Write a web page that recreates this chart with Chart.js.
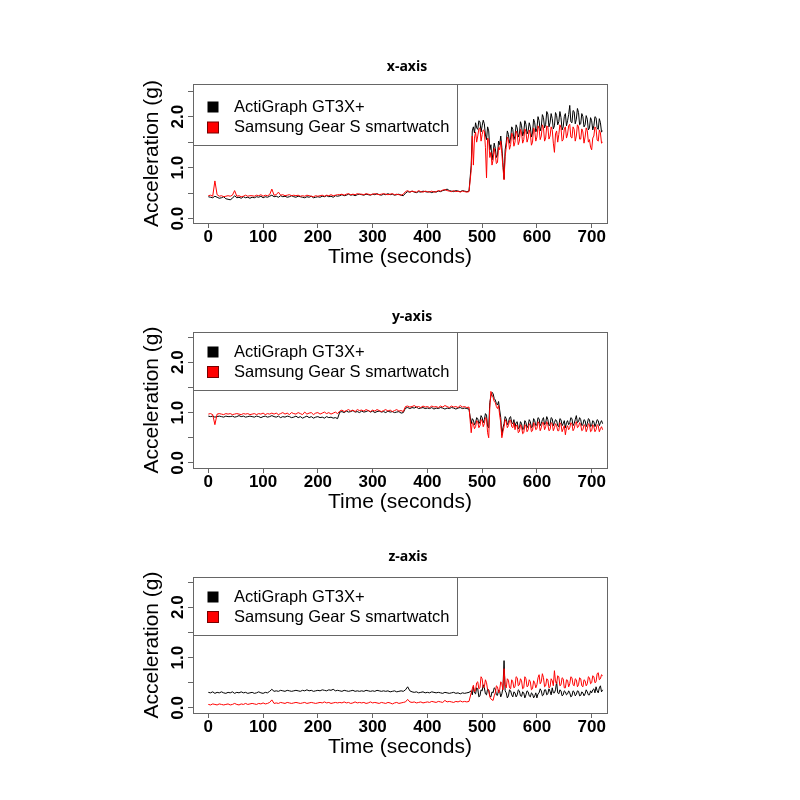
<!DOCTYPE html>
<html>
<head>
<meta charset="utf-8">
<script src="https://cdn.jsdelivr.net/npm/chart.js@4.4.1/dist/chart.umd.min.js"></script>
<style>
html, body { margin: 0; padding: 0; background: #fff; }
#wrap { position: relative; width: 800px; height: 800px; }
canvas { position: absolute; left: 0; }
</style>
</head>
<body>
<div id="wrap">
  <canvas id="panelX" width="800" height="240" style="top:40px"></canvas>
  <canvas id="panelY" width="800" height="240" style="top:290px"></canvas>
  <canvas id="panelZ" width="800" height="240" style="top:535px"></canvas>
</div>
<script>
// sampling: every 4 s while sitting (0..476 s), every 2 s while active (480..720 s)
const REST_STEP = 4, REST_COUNT = 120;
const ACTIVE_START = 480, ACTIVE_STEP = 2;
const seriesNames = ['ActiGraph GT3X+', 'Samsung Gear S smartwatch'];
const seriesColors = ['#000000', '#ff0000'];
const panelTitles = ['x-axis', 'y-axis', 'z-axis'];
const timeTicks = [0, 100, 200, 300, 400, 500, 600, 700];
const accelTicks = [0, 0.5, 1, 1.5, 2, 2.5];
const accelLabelled = [0, 1, 2];

// x-axis acceleration (g)
const xActi = [
  0.43,0.42,0.41,0.44,0.42,0.40,0.41,0.43,0.39,0.38, 0.37,0.40,0.45,0.41,0.42,0.40,0.43,0.41,0.42,0.40,
  0.42,0.41,0.43,0.42,0.44,0.41,0.43,0.42,0.44,0.46, 0.43,0.44,0.42,0.45,0.43,0.44,0.42,0.43,0.45,0.43,
  0.42,0.44,0.43,0.42,0.41,0.43,0.42,0.44,0.41,0.42, 0.43,0.42,0.44,0.43,0.45,0.43,0.44,0.42,0.45,0.44,
  0.45,0.47,0.45,0.46,0.48,0.46,0.47,0.45,0.47,0.48, 0.47,0.46,0.48,0.47,0.46,0.48,0.47,0.49,0.47,0.46,
  0.48,0.47,0.49,0.47,0.48,0.46,0.47,0.48,0.46,0.45, 0.50,0.53,0.52,0.54,0.52,0.51,0.53,0.52,0.54,0.53,
  0.52,0.53,0.51,0.53,0.52,0.54,0.53,0.55,0.56,0.58, 0.55,0.54,0.53,0.55,0.54,0.53,0.55,0.54,0.53,0.54,
  // active
  1.05,1.72,1.80,1.68,1.88,1.78,1.75,1.92,1.90,1.70, 1.82,1.93,1.86,1.64,1.55,1.80,1.72,1.35,1.45,1.15,
  1.30,1.48,1.38,1.20,1.25,1.52,1.45,1.62,1.40,1.10, 0.78,1.35,1.50,1.72,1.65,1.48,1.58,1.80,1.75,1.55,
  1.62,1.84,1.78,1.60,1.66,1.90,1.82,1.62,1.70,1.92, 1.85,1.66,1.72,1.88,1.80,1.60,1.68,1.95,1.88,1.70,
  1.76,2.00,1.92,1.72,1.80,2.04,1.98,1.78,1.85,2.10, 2.05,1.80,1.88,2.06,1.96,1.76,1.82,2.08,2.02,1.84,
  1.90,2.10,1.98,1.74,1.80,2.00,2.06,1.82,1.92,2.04, 2.22,1.90,1.88,2.12,2.10,1.86,1.95,2.16,2.08,1.84,
  1.86,2.06,2.00,1.80,1.84,2.02,1.95,1.74,1.78,1.98, 1.92,1.74,1.82,2.00,1.98,1.78,1.75,1.96,1.88,1.70,
  1.72
];
const xGear = [
  0.45,0.46,0.44,0.74,0.47,0.44,0.45,0.43,0.44,0.45, 0.44,0.46,0.55,0.44,0.45,0.43,0.44,0.46,0.44,0.45,
  0.45,0.44,0.46,0.45,0.47,0.44,0.46,0.45,0.47,0.58, 0.46,0.47,0.52,0.46,0.47,0.45,0.46,0.47,0.45,0.46,
  0.45,0.46,0.44,0.45,0.44,0.46,0.45,0.44,0.43,0.45, 0.44,0.45,0.46,0.44,0.46,0.45,0.47,0.45,0.46,0.47,
  0.47,0.48,0.46,0.48,0.49,0.47,0.48,0.47,0.49,0.48, 0.48,0.47,0.49,0.48,0.47,0.48,0.49,0.48,0.47,0.48,
  0.49,0.48,0.47,0.48,0.49,0.47,0.48,0.47,0.46,0.48, 0.53,0.55,0.52,0.54,0.53,0.52,0.55,0.53,0.52,0.54,
  0.53,0.52,0.54,0.52,0.53,0.55,0.54,0.56,0.57,0.55, 0.54,0.53,0.55,0.53,0.54,0.52,0.54,0.53,0.52,0.53,
  // active
  0.95,1.62,1.05,1.58,1.70,1.50,1.62,1.76,1.78,1.52, 1.65,1.74,1.72,1.40,0.80,1.58,1.55,1.20,1.30,1.05,
  1.15,1.38,1.25,1.08,1.10,1.40,1.35,1.52,1.28,1.00, 0.76,1.22,1.40,1.60,1.55,1.36,1.45,1.68,1.62,1.42,
  1.50,1.72,1.66,1.45,1.52,1.75,1.68,1.48,1.55,1.76, 1.70,1.50,1.58,1.74,1.66,1.44,1.50,1.78,1.72,1.52,
  1.60,1.82,1.76,1.55,1.62,1.84,1.78,1.52,1.58,1.82, 1.80,1.56,1.62,1.80,1.74,1.48,1.30,1.66,1.72,1.50,
  1.65,1.84,1.78,1.52,1.55,1.76,1.80,1.58,1.66,1.82, 1.85,1.60,1.58,1.80,1.75,1.52,1.62,1.84,1.80,1.56,
  1.56,1.76,1.70,1.48,1.60,1.78,1.72,1.50,1.55,1.40, 1.35,1.58,1.62,1.80,1.76,1.54,1.52,1.74,1.68,1.48,
  1.50
];

// y-axis acceleration (g)
const yActi = [
  0.93,0.92,0.93,0.91,0.92,0.93,0.92,0.91,0.93,0.92, 0.92,0.93,0.91,0.92,0.94,0.92,0.93,0.91,0.92,0.93,
  0.92,0.91,0.93,0.92,0.90,0.92,0.93,0.91,0.92,0.94, 0.92,0.91,0.93,0.90,0.92,0.91,0.93,0.92,0.90,0.91,
  0.93,0.90,0.92,0.89,0.91,0.93,0.90,0.92,0.89,0.91, 0.92,0.90,0.91,0.89,0.92,0.90,0.91,0.89,0.90,0.88,
  1.01,1.02,1.00,1.03,1.01,1.02,1.04,1.01,1.02,1.00, 1.03,1.01,1.02,1.04,1.01,1.03,1.00,1.02,1.03,1.01,
  1.02,1.00,1.03,1.01,1.02,1.00,1.01,1.02,0.99,1.00, 1.09,1.10,1.08,1.10,1.09,1.11,1.08,1.09,1.10,1.08,
  1.09,1.08,1.10,1.07,1.09,1.08,1.10,1.09,1.07,1.09, 1.08,1.10,1.09,1.07,1.09,1.10,1.08,1.09,1.08,1.07,
  // active
  0.78,0.88,0.85,0.76,0.80,0.90,0.88,0.78,0.82,0.94, 0.90,0.80,0.86,0.98,0.95,0.72,0.70,1.20,1.32,1.40,
  1.38,1.28,1.25,1.18,1.15,1.22,1.05,0.90,0.55,0.70, 0.78,0.92,0.88,0.76,0.80,0.90,0.92,0.80,0.78,0.86,
  0.72,0.80,0.82,0.68,0.70,0.82,0.78,0.66,0.68,0.84, 0.80,0.70,0.74,0.86,0.82,0.70,0.72,0.88,0.84,0.74,
  0.76,0.90,0.88,0.74,0.78,0.86,0.90,0.76,0.80,0.92, 0.86,0.74,0.76,0.90,0.88,0.74,0.80,0.86,0.84,0.74,
  0.72,0.88,0.86,0.74,0.78,0.84,0.70,0.80,0.84,0.76, 0.80,0.90,0.88,0.74,0.78,0.86,0.94,0.80,0.82,0.90,
  0.86,0.74,0.76,0.86,0.84,0.72,0.78,0.88,0.86,0.72, 0.74,0.84,0.82,0.72,0.78,0.86,0.84,0.74,0.80,0.84,
  0.78
];
const yGear = [
  0.97,0.98,0.96,0.76,0.97,0.98,0.97,0.96,0.98,0.97, 0.98,0.96,0.97,0.98,0.97,0.96,0.98,0.97,0.98,0.96,
  0.97,0.98,0.96,0.98,0.97,0.99,0.96,0.98,0.97,0.99, 0.97,0.99,0.96,0.98,1.00,0.97,0.99,0.96,1.00,0.98,
  0.97,1.00,0.98,0.96,1.01,0.97,0.99,1.00,0.96,0.99, 1.00,0.97,0.99,1.01,0.98,1.00,0.97,0.99,1.01,0.98,
  1.03,1.05,1.02,1.04,1.06,1.03,1.05,1.02,1.06,1.04, 1.05,1.03,1.06,1.04,1.02,1.05,1.03,1.06,1.04,1.02,
  1.04,1.06,1.03,1.05,1.02,1.04,1.06,1.03,1.04,1.02, 1.12,1.13,1.11,1.12,1.14,1.11,1.12,1.10,1.13,1.11,
  1.12,1.10,1.13,1.11,1.12,1.10,1.13,1.11,1.14,1.12, 1.10,1.13,1.11,1.12,1.10,1.14,1.11,1.12,1.10,1.11,
  // active
  0.60,0.80,0.78,0.68,0.72,0.84,0.82,0.70,0.74,0.86, 0.84,0.72,0.78,0.90,0.88,0.60,0.50,1.10,1.42,1.35,
  1.30,1.22,1.20,1.12,1.08,1.14,0.95,0.80,0.50,0.62, 0.72,0.86,0.82,0.70,0.74,0.84,0.85,0.72,0.70,0.80,
  0.66,0.74,0.75,0.60,0.62,0.76,0.72,0.58,0.60,0.76, 0.74,0.62,0.66,0.78,0.75,0.62,0.64,0.80,0.76,0.66,
  0.68,0.82,0.78,0.64,0.70,0.80,0.80,0.66,0.72,0.82, 0.76,0.64,0.66,0.80,0.78,0.64,0.70,0.78,0.74,0.64,
  0.64,0.80,0.76,0.62,0.68,0.74,0.56,0.70,0.74,0.66, 0.70,0.80,0.78,0.64,0.68,0.78,0.82,0.70,0.72,0.80,
  0.76,0.64,0.66,0.76,0.74,0.62,0.68,0.78,0.76,0.62, 0.64,0.76,0.72,0.62,0.66,0.76,0.74,0.62,0.68,0.72,
  0.66
];

// z-axis acceleration (g)
const zActi = [
  0.31,0.30,0.32,0.29,0.31,0.30,0.32,0.30,0.29,0.31, 0.30,0.32,0.29,0.31,0.30,0.32,0.30,0.31,0.29,0.30,
  0.31,0.29,0.30,0.32,0.30,0.29,0.31,0.30,0.33,0.37, 0.33,0.34,0.33,0.35,0.34,0.33,0.35,0.34,0.33,0.34,
  0.35,0.34,0.33,0.35,0.34,0.36,0.34,0.35,0.33,0.34, 0.35,0.34,0.36,0.35,0.34,0.36,0.35,0.37,0.34,0.35,
  0.34,0.33,0.35,0.34,0.33,0.34,0.35,0.33,0.34,0.33, 0.34,0.33,0.35,0.34,0.33,0.34,0.33,0.35,0.34,0.33,
  0.34,0.33,0.34,0.32,0.33,0.34,0.32,0.33,0.34,0.33, 0.36,0.42,0.34,0.32,0.31,0.32,0.30,0.31,0.32,0.30,
  0.31,0.30,0.32,0.31,0.30,0.31,0.30,0.29,0.31,0.30, 0.29,0.30,0.31,0.29,0.30,0.28,0.30,0.29,0.30,0.31,
  // active
  0.34,0.26,0.42,0.30,0.28,0.40,0.38,0.22,0.24,0.36, 0.34,0.46,0.40,0.28,0.26,0.38,0.36,0.24,0.22,0.32,
  0.30,0.40,0.38,0.26,0.25,0.36,0.33,0.22,0.28,0.40, 0.94,0.34,0.30,0.20,0.24,0.36,0.34,0.26,0.22,0.32,
  0.30,0.22,0.26,0.36,0.34,0.24,0.23,0.32,0.30,0.20, 0.26,0.34,0.32,0.24,0.22,0.30,0.28,0.20,0.24,0.30,
  0.20,0.28,0.30,0.38,0.34,0.24,0.26,0.36,0.36,0.26, 0.28,0.38,0.33,0.26,0.40,0.30,0.30,0.36,0.52,0.30,
  0.28,0.36,0.34,0.24,0.26,0.34,0.32,0.26,0.28,0.34, 0.30,0.22,0.24,0.34,0.32,0.24,0.27,0.34,0.33,0.24,
  0.25,0.32,0.30,0.24,0.28,0.36,0.32,0.26,0.26,0.34, 0.30,0.36,0.38,0.30,0.42,0.34,0.30,0.40,0.44,0.32,
  0.36
];
const zGear = [
  0.07,0.06,0.08,0.07,0.06,0.08,0.07,0.06,0.07,0.08, 0.06,0.07,0.09,0.07,0.06,0.08,0.07,0.09,0.07,0.08,
  0.09,0.08,0.07,0.09,0.08,0.10,0.08,0.09,0.11,0.16, 0.09,0.10,0.09,0.11,0.10,0.09,0.11,0.10,0.09,0.10,
  0.11,0.10,0.09,0.10,0.11,0.09,0.10,0.11,0.10,0.09, 0.10,0.11,0.10,0.12,0.10,0.11,0.09,0.10,0.11,0.10,
  0.11,0.10,0.12,0.10,0.11,0.09,0.10,0.12,0.10,0.11, 0.10,0.11,0.09,0.10,0.12,0.10,0.11,0.10,0.09,0.11,
  0.10,0.09,0.11,0.10,0.08,0.10,0.11,0.09,0.10,0.11, 0.12,0.17,0.12,0.11,0.12,0.10,0.11,0.12,0.10,0.11,
  0.12,0.11,0.13,0.12,0.11,0.13,0.12,0.11,0.15,0.12, 0.13,0.12,0.11,0.13,0.12,0.14,0.12,0.13,0.12,0.13,
  // active
  0.30,0.38,0.45,0.32,0.36,0.50,0.52,0.38,0.40,0.62, 0.58,0.40,0.42,0.56,0.50,0.36,0.35,0.22,0.18,0.16,
  0.15,0.24,0.30,0.44,0.42,0.30,0.36,0.52,0.48,0.36, 0.78,0.46,0.40,0.58,0.55,0.40,0.38,0.56,0.52,0.40,
  0.42,0.62,0.60,0.44,0.46,0.58,0.54,0.38,0.40,0.62, 0.58,0.42,0.44,0.56,0.52,0.36,0.38,0.54,0.50,0.40,
  0.46,0.60,0.66,0.48,0.52,0.68,0.60,0.42,0.44,0.58, 0.56,0.40,0.42,0.58,0.54,0.44,0.74,0.52,0.48,0.64,
  0.62,0.44,0.46,0.60,0.58,0.40,0.40,0.56,0.55,0.42, 0.48,0.62,0.60,0.46,0.44,0.58,0.56,0.42,0.46,0.60,
  0.58,0.44,0.42,0.56,0.54,0.44,0.48,0.62,0.60,0.48, 0.50,0.64,0.62,0.50,0.52,0.68,0.70,0.56,0.58,0.66,
  0.64
];

const FONT = '"Liberation Sans", Arial, sans-serif';
const AXIS_GREY = '#666';
const sampleTime = i => i < REST_COUNT ? i * REST_STEP : ACTIVE_START + (i - REST_COUNT) * ACTIVE_STEP;
const toPoints = arr => arr.map((v, i) => ({ x: sampleTime(i), y: v }));

// R-style boxed legend, plot frame and panel heading
const framePlugin = {
  id: 'rFrame',
  afterDatasetsDraw(chart, args, opts) {
    const ctx = chart.ctx, a = chart.chartArea;
    ctx.save();
    // legend box
    const lw = 457 - a.left, lh = opts.legendH;
    ctx.fillStyle = '#fff';
    ctx.fillRect(a.left, a.top, lw, lh);
    ctx.strokeStyle = AXIS_GREY; ctx.lineWidth = 1;
    ctx.strokeRect(a.left + 0.5, a.top + 0.5, lw, lh);
    ctx.font = '16.5px ' + FONT;
    ctx.textBaseline = 'middle';
    seriesNames.forEach((name, i) => {
      const cy = a.top + opts.rows[i];
      ctx.fillStyle = seriesColors[i];
      ctx.fillRect(207.5, cy - 5.5, 11, 11);
      if (i === 1) { ctx.strokeStyle = '#700'; ctx.strokeRect(207.5, cy - 5.5, 11, 11); }
      ctx.fillStyle = '#000';
      ctx.fillText(name, 234, cy);
    });
    // plot frame
    ctx.strokeStyle = AXIS_GREY;
    ctx.strokeRect(a.left + 0.5, a.top + 0.5, a.right - a.left, a.bottom - a.top);
    // heading
    ctx.font = 'bold 14px "Open Sans", sans-serif';
    ctx.textAlign = 'center';
    ctx.fillStyle = '#000';
    ctx.fillText(opts.title, opts.titleX, opts.titleY);
    ctx.restore();
  }
};

function makePanel(canvasId, title, acti, gear, look) {
  const gridOpts = { drawOnChartArea: false, drawTicks: true, tickLength: 5, tickColor: AXIS_GREY, color: AXIS_GREY };
  return new Chart(document.getElementById(canvasId), {
    type: 'scatter',
    data: {
      datasets: [
        { label: seriesNames[0], data: toPoints(acti), borderColor: seriesColors[0], showLine: true,
          pointRadius: 0, borderWidth: 1, tension: 0, order: 2 },
        { label: seriesNames[1], data: toPoints(gear), borderColor: seriesColors[1], showLine: true,
          pointRadius: 0, borderWidth: 1, tension: 0, order: 1 }
      ]
    },
    options: {
      responsive: false,
      animation: false,
      events: [],
      layout: { padding: { left: 130, right: 193, top: look.top, bottom: look.bottom } },
      scales: {
        x: {
          type: 'linear', min: -28, max: 728,
          afterBuildTicks: s => { s.ticks = timeTicks.map(v => ({ value: v })); },
          afterFit: s => { s.height = 55; },
          grid: gridOpts,
          border: { display: true, color: AXIS_GREY },
          ticks: { font: { family: FONT, size: 17, weight: 'bold' }, color: '#000', padding: -1, maxRotation: 0, autoSkip: false },
          title: { display: true, text: 'Time (seconds)', color: '#000', font: { family: FONT, size: 21 }, padding: { top: 0, bottom: 8 } }
        },
        y: {
          type: 'linear', min: look.yMin, max: look.yMax,
          afterBuildTicks: s => { s.ticks = accelTicks.map(v => ({ value: v })); },
          afterFit: s => { s.width = 63; },
          grid: gridOpts,
          border: { display: true, color: AXIS_GREY },
          ticks: {
            font: { family: FONT, size: 17, weight: 'bold' }, color: '#000',
            minRotation: 90, maxRotation: 90, crossAlign: 'center', padding: -2, autoSkip: false,
            callback: v => accelLabelled.includes(v) ? v.toFixed(1) : ''
          },
          title: { display: true, text: 'Acceleration (g)', color: '#000', font: { family: FONT, size: 21 }, padding: { top: 10, bottom: 0 } }
        }
      },
      plugins: {
        legend: { display: false },
        tooltip: { enabled: false },
        rFrame: { title: title, titleX: look.titleX, titleY: look.titleY, legendH: look.legendH, rows: look.rows }
      }
    },
    plugins: [framePlugin]
  });
}

makePanel('panelX', panelTitles[0], xActi, xGear,
  { top: 44, bottom: 2, yMin: -0.085, yMax: 2.64, legendH: 61, rows: [23, 43.5], titleX: 407, titleY: 27 });
makePanel('panelY', panelTitles[1], yActi, yGear,
  { top: 42, bottom: 7, yMin: -0.1, yMax: 2.6, legendH: 58, rows: [20, 40], titleX: 412, titleY: 27 });
makePanel('panelZ', panelTitles[2], zActi, zGear,
  { top: 42, bottom: 7, yMin: -0.1, yMax: 2.6, legendH: 58, rows: [20, 40], titleX: 408, titleY: 22 });
</script>
</body>
</html>
